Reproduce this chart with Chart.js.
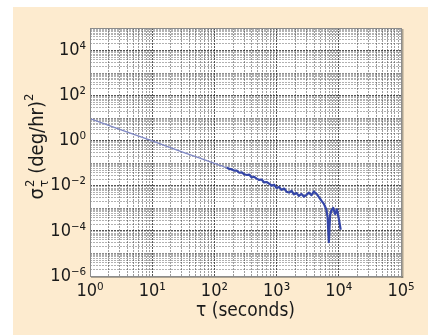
<!DOCTYPE html>
<html>
<head>
<meta charset="utf-8">
<script src="https://cdn.jsdelivr.net/npm/chart.js@4.4.1/dist/chart.umd.min.js"></script>
<style>
  html, body { margin: 0; padding: 0; background: #fff; }
  #wrap { width: 428px; height: 335px; }
</style>
</head>
<body>
<div id="wrap"><canvas id="allanChart" width="428" height="335"></canvas></div>
<script>
// Allan variance of the gyro, sigma^2 (deg/hr)^2 against cluster time tau (s)
const tau = [
  1, 3, 10, 30, 60,
  100, 110, 120, 132, 145, 158, 174, 191, 209, 229,
  251, 275, 302, 331, 363, 398, 437, 479, 525, 575,
  631, 692, 759, 832, 912, 1000, 1096, 1202, 1318, 1445,
  1585, 1738, 1905, 2089, 2291, 2512, 2754, 3020, 3311, 3631,
  3981, 4365, 4786, 5248, 5754, 6310, 6607, 6918, 7244, 7586,
  8128, 8710, 9333, 10000, 10715
];
const sigma2 = [
  9.5, 3.2, 0.98, 0.32, 0.165,
  0.100, 0.0912, 0.0813, 0.0776, 0.0676, 0.0646, 0.0562, 0.0537, 0.0468, 0.0468,
  0.0380, 0.0398, 0.0324, 0.0302, 0.0316, 0.0234, 0.0251, 0.0209, 0.0182, 0.0191,
  0.0141, 0.0148, 0.0126, 0.0102, 0.0112, 0.00794, 0.00891, 0.00661, 0.00759, 0.00550,
  0.00501, 0.00603, 0.00417, 0.00479, 0.00355, 0.00437, 0.00331, 0.00398, 0.00501, 0.00380,
  0.00562, 0.00447, 0.00316, 0.00219, 0.00158, 0.000891, 0.000398, 0.0000316, 0.000501, 0.000794,
  0.00105, 0.000562, 0.000891, 0.000355, 0.000112
];

// axis ranges as powers of ten, and which decades carry a label
const xExp = [0, 5];
const yExp = [-6, 5];
const yLabelExps = [-6, -4, -2, 0, 2, 4];

const SUP = { '0': '⁰', '1': '¹', '2': '²', '3': '³', '4': '⁴', '5': '⁵', '6': '⁶', '-': '⁻' };
const pow10Label = e => '10' + String(e).split('').map(c => SUP[c]).join('');

const FONT = "'Liberation Sans Narrow', 'DejaVu Sans Condensed', sans-serif";

function logTicks(lo, hi) {
  const out = [];
  for (let e = lo; e < hi; e++) {
    for (let m = 1; m <= 9; m++) out.push({ value: m * Math.pow(10, e) });
  }
  out.push({ value: Math.pow(10, hi) });
  return out;
}
const expOf = v => Math.log10(v);
const isDecade = v => Math.abs(expOf(v) - Math.round(expOf(v))) < 1e-6;

const pageBackground = {
  id: 'pageBackground',
  beforeDraw(chart) {
    const { ctx, chartArea: a } = chart;
    ctx.save();
    ctx.fillStyle = '#ffffff';
    ctx.fillRect(0, 0, chart.width, chart.height);
    ctx.fillStyle = '#fdebcf';
    ctx.fillRect(13, 7, chart.width - 13, chart.height - 7);
    ctx.fillStyle = '#ffffff';
    ctx.fillRect(a.left, a.top, a.right - a.left, a.bottom - a.top);
    ctx.restore();
  }
};

const plotFrame = {
  id: 'plotFrame',
  afterDraw(chart) {
    const { ctx, chartArea: a } = chart;
    ctx.save();
    ctx.fillStyle = 'rgba(110,105,95,0.55)';
    ctx.fillRect(a.right, a.top + 1, 2.5, a.bottom - a.top + 1);
    ctx.fillRect(a.left + 1, a.bottom, a.right - a.left + 1, 2);
    ctx.strokeStyle = '#8c8c8c';
    ctx.lineWidth = 1;
    ctx.strokeRect(a.left + 0.5, a.top + 0.5, a.right - a.left, a.bottom - a.top);
    ctx.restore();

    // y axis title: sigma with stacked 2 / tau, then (deg/hr)^2
    const big = '20px ' + FONT, small = '13px ' + FONT;
    const cy = (a.top + a.bottom) / 2 - 5;
    ctx.save();
    ctx.translate(43, cy);
    ctx.rotate(-Math.PI / 2);
    ctx.fillStyle = '#1a1a1a';
    ctx.textBaseline = 'alphabetic';
    ctx.font = big;
    const wSig = ctx.measureText('σ').width;
    const wMain = ctx.measureText(' (deg/hr)').width;
    ctx.font = small;
    const wSub = Math.max(ctx.measureText('2').width, ctx.measureText('τ').width);
    const wSup = ctx.measureText('2').width;
    let x = -(wSig + wSub + wMain + wSup) / 2;
    ctx.font = big;
    ctx.fillText('σ', x, 0);
    x += wSig + 1;
    ctx.font = small;
    ctx.fillText('2', x, -9);
    ctx.fillText('τ', x, 5);
    x += wSub;
    ctx.font = big;
    ctx.fillText(' (deg/hr)', x, 0);
    x += wMain;
    ctx.font = small;
    ctx.fillText('2', x, -10);
    ctx.restore();
  }
};

const gridColor = (labelled, minor) => (ctx) => {
  const v = ctx.tick && ctx.tick.value;
  if (!v || !isDecade(v)) return minor;
  return labelled(Math.round(expOf(v))) ? 'rgba(30,30,30,0.75)' : 'rgba(50,50,50,0.55)';
};

const thin = c => c.p0.parsed.x < 150;

new Chart(document.getElementById('allanChart'), {
  type: 'line',
  data: {
    datasets: [{
      data: tau.map((t, i) => ({ x: t, y: sigma2[i] })),
      borderColor: '#3446a8',
      borderWidth: 2,
      pointRadius: 0,
      tension: 0,
      borderJoinStyle: 'round',
      segment: {
        borderColor: c => thin(c) ? '#7f88c4' : '#3446a8',
        borderWidth: c => thin(c) ? 1.3 : 2.2
      }
    }]
  },
  options: {
    responsive: false,
    animation: false,
    events: [],
    layout: { padding: { top: 28, right: 27, left: 0, bottom: 0 } },
    plugins: { legend: { display: false }, tooltip: { enabled: false } },
    scales: {
      x: {
        type: 'logarithmic',
        min: Math.pow(10, xExp[0]),
        max: Math.pow(10, xExp[1]),
        afterBuildTicks: s => { s.ticks = logTicks(xExp[0], xExp[1]); },
        afterFit: s => { s.height = 59; },
        grid: { color: gridColor(() => true, 'rgba(60,60,60,0.5)'), lineWidth: 1, drawTicks: false },
        border: { display: false, dash: [2, 1] },
        ticks: {
          autoSkip: false, maxRotation: 0, padding: 5,
          color: '#1a1a1a', font: { family: FONT, size: 18 },
          callback: v => isDecade(v) ? pow10Label(Math.round(expOf(v))) : ''
        },
        title: {
          display: true, text: 'τ (seconds)', color: '#1a1a1a',
          font: { family: FONT, size: 19 }, padding: { top: 0, bottom: 13 }
        }
      },
      y: {
        type: 'logarithmic',
        min: Math.pow(10, yExp[0]),
        max: Math.pow(10, yExp[1]),
        afterBuildTicks: s => { s.ticks = logTicks(yExp[0], yExp[1]); },
        afterFit: s => { s.width = 90; },
        grid: { color: gridColor(e => yLabelExps.includes(e), 'rgba(60,60,60,0.4)'), lineWidth: 1, drawTicks: false },
        border: { display: false, dash: [2, 1] },
        ticks: {
          autoSkip: false, padding: 4,
          color: '#1a1a1a', font: { family: FONT, size: 18 },
          callback: v => {
            if (!isDecade(v)) return '';
            const e = Math.round(expOf(v));
            return yLabelExps.includes(e) ? pow10Label(e) : '';
          }
        }
      }
    }
  },
  plugins: [pageBackground, plotFrame]
});
</script>
</body>
</html>
